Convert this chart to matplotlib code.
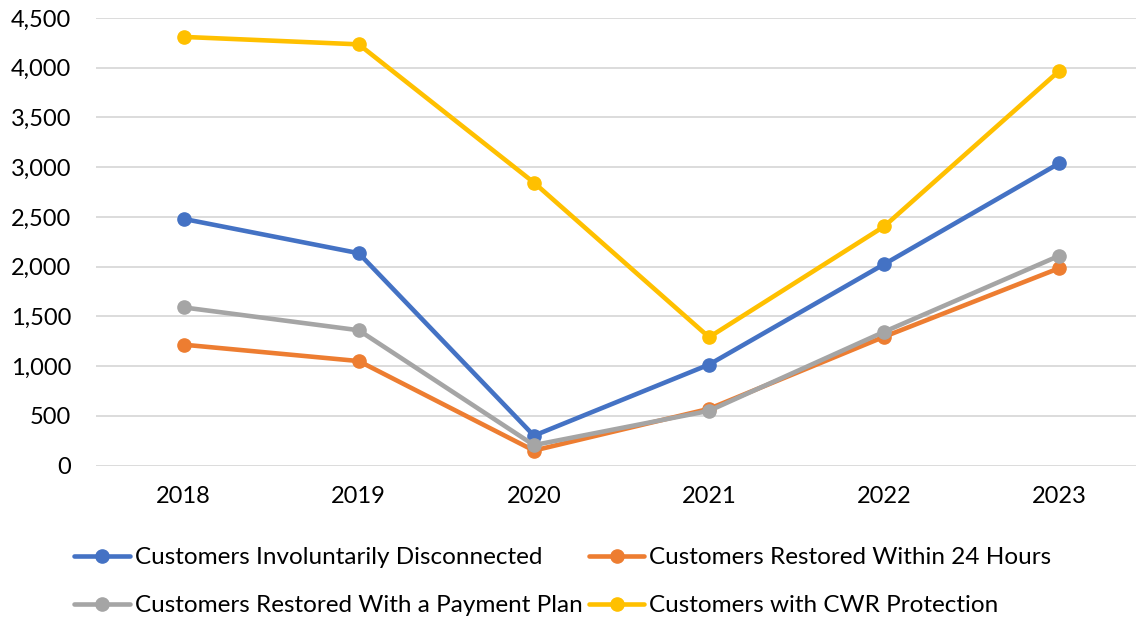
import matplotlib.pyplot as plt
from matplotlib.ticker import FuncFormatter, MultipleLocator

years = ["2018", "2019", "2020", "2021", "2022", "2023"]
disconnected = [2480, 2135, 300, 1015, 2025, 3040]
restored_24h = [1215, 1050, 150, 570, 1295, 1985]
payment_plan = [1590, 1360, 205, 550, 1345, 2110]
cwr_protection = [4310, 4235, 2845, 1290, 2405, 3970]

series = [
    ("Customers Involuntarily Disconnected", disconnected, "#4472C4"),
    ("Customers Restored Within 24 Hours", restored_24h, "#ED7D31"),
    ("Customers Restored With a Payment Plan", payment_plan, "#A5A5A5"),
    ("Customers with CWR Protection", cwr_protection, "#FFC000"),
]

plt.rcParams["font.family"] = ["Lato", "DejaVu Sans"]

fig = plt.figure(figsize=(11.36, 6.17), dpi=100)
W, H = 1136, 617
left, right, top, bottom = 96, 1147, 18, 465.5
ax = fig.add_axes([left / W, 1 - bottom / H, (right - left) / W, (bottom - top) / H])

x = range(len(years))
lines = []
for label, values, color in series:
    ln, = ax.plot(x, values, color=color, lw=3.3, marker="o", ms=9.5, label=label,
                  solid_capstyle="round")
    lines.append(ln)

ax.set_xlim(-0.5, len(years) - 0.5)
ax.set_ylim(0, 4500)
ax.yaxis.set_major_locator(MultipleLocator(500))
ax.yaxis.set_major_formatter(FuncFormatter(lambda v, p: f"{int(v):,}"))
ax.set_xticks(list(x))
ax.set_xticklabels(years)
ax.grid(axis="y", color="#D9D9D9", lw=1.3)
ax.set_axisbelow(True)
for s in ax.spines.values():
    s.set_visible(False)
ax.tick_params(length=0, labelsize=17, colors="#000000")
ax.tick_params(axis="y", pad=18)
ax.tick_params(axis="x", pad=15)

# legend fills by column, so reorder to read row by row
order = [0, 2, 1, 3]
fig.legend([lines[i] for i in order], [series[i][0] for i in order],
           loc="upper left", bbox_to_anchor=(74 / W, 1 - 547 / H), ncol=2,
           frameon=False, fontsize=17.5, handlelength=2.3, handletextpad=0.2,
           columnspacing=0.25, labelspacing=1.13, borderaxespad=0, borderpad=0)

fig.savefig("out.png", dpi=100)
